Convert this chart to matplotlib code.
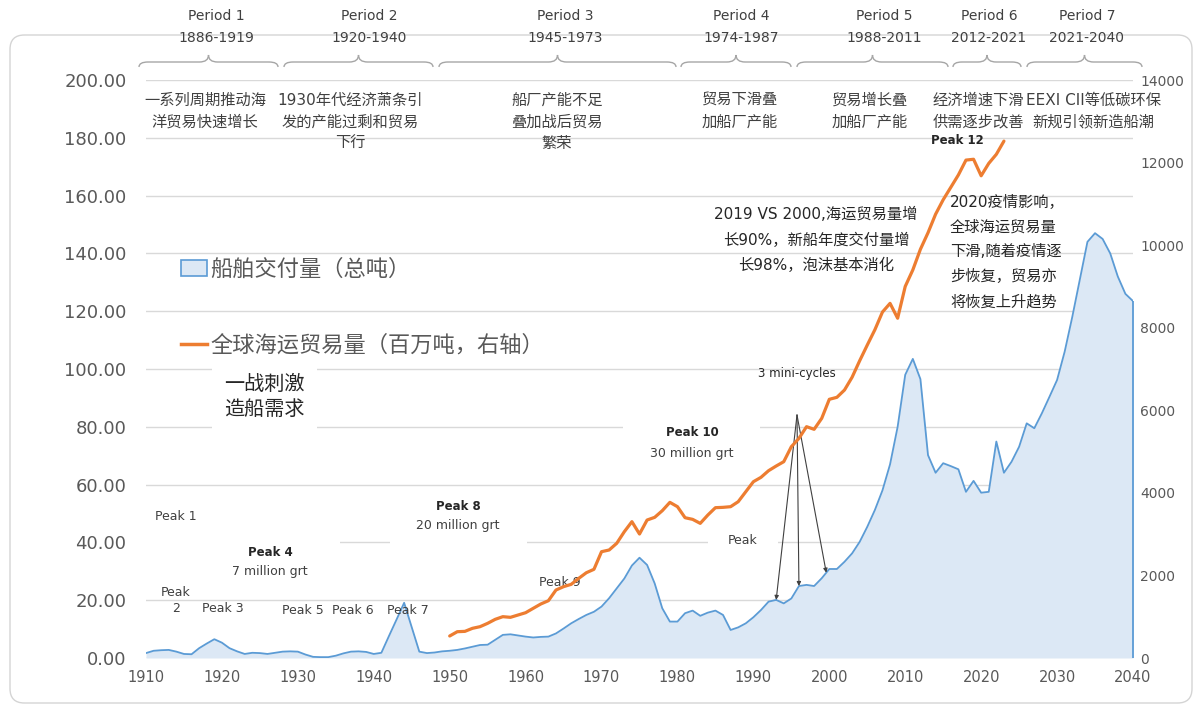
import matplotlib
import numpy as np

matplotlib.use("Agg")
import matplotlib.pyplot as plt  # noqa: E402
from matplotlib.lines import Line2D  # noqa: E402
from matplotlib.patches import FancyBboxPatch, Patch, PathPatch, Rectangle  # noqa: E402
from matplotlib.path import Path  # noqa: E402

plt.rcParams["font.family"] = ["DejaVu Sans", "Noto Sans CJK SC"]

# ---- data ----
deliv_years = np.arange(1910, 2041)
# ship deliveries, left axis
deliv = [
    1.7, 2.5, 2.7, 2.8, 2.2, 1.4, 1.3, 3.4, 5.0, 6.5,
    5.3, 3.4, 2.3, 1.4, 1.8, 1.7, 1.4, 1.8, 2.2, 2.3,
    2.2, 1.2, 0.4, 0.3, 0.3, 0.8, 1.6, 2.2, 2.3, 2.1,
    1.4, 1.8, 7.6, 13.3, 19.1, 10.6, 2.2, 1.7, 1.9, 2.3,
    2.5, 2.8, 3.3, 3.9, 4.5, 4.6, 6.3, 8.0, 8.2, 7.8,
    7.4, 7.1, 7.3, 7.4, 8.5, 10.2, 12.0, 13.5, 14.9, 16.0,
    17.8, 20.7, 24.1, 27.5, 32.0, 34.7, 32.2, 25.8, 17.2, 12.6,
    12.6, 15.5, 16.4, 14.6, 15.7, 16.4, 14.9, 9.7, 10.6, 12.0,
    14.1, 16.6, 19.5, 20.1, 18.9, 20.6, 24.9, 25.3, 24.9, 27.6,
    30.8, 30.8, 33.3, 36.2, 40.2, 45.4, 51.2, 58.0, 67.0, 80.0,
    98.0, 103.5, 96.5, 70.2, 64.1, 67.4, 66.4, 65.3, 57.5, 61.3,
    57.2, 57.5, 74.9, 64.1, 67.9, 73.1, 81.2, 79.5, 84.7, 90.4,
    96.2, 106.0, 118.0, 131.0, 144.0, 147.0, 145.0, 140.0, 132.0, 126.0,
    123.5,
]
trade_years = np.arange(1950, 2024)
# seaborne trade, million tonnes, right axis
trade = [
    533, 637, 645, 719, 759, 840, 937, 1001, 985, 1041,
    1097, 1203, 1308, 1388, 1647, 1728, 1784, 1930, 2066, 2148,
    2575, 2616, 2778, 3059, 3302, 3003, 3342, 3407, 3568, 3770,
    3665, 3398, 3358, 3261, 3463, 3641, 3649, 3665, 3786, 4028,
    4270, 4376, 4537, 4650, 4755, 5118, 5320, 5603, 5539, 5805,
    6266, 6314, 6491, 6800, 7200, 7580, 7950, 8380, 8590, 8230,
    9000, 9400, 9900, 10300, 10750, 11100, 11400, 11700, 12060, 12080,
    11680, 11980, 12200, 12520,
]

period_names = ["Period 1", "Period 2", "Period 3", "Period 4",
                "Period 5", "Period 6", "Period 7"]
period_spans = ["1886-1919", "1920-1940", "1945-1973", "1974-1987",
                "1988-2011", "2012-2021", "2021-2040"]
period_notes = [
    "一系列周期推动海\n洋贸易快速增长",
    "1930年代经济萧条引\n发的产能过剩和贸易\n下行",
    "船厂产能不足\n叠加战后贸易\n繁荣",
    "贸易下滑叠\n加船厂产能",
    "贸易增长叠\n加船厂产能",
    "经济增速下滑\n供需逐步改善",
    "EEXI CII等低碳环保\n新规引领新造船潮",
]
deliv_label = "船舶交付量（总吨）"
trade_label = "全球海运贸易量（百万吨，右轴）"

BLUE = "#5b9bd5"
FILL = "#dce8f5"
ORANGE = "#ed7d31"
GRID = "#d9d9d9"
GREY = "#595959"
DARK = "#404040"


# reference-pixel helpers for annotation placement (left-axis data coords)
def X(px):
    return 1910 + (px - 146) / 987 * 130


def Y(py):
    return (658 - py) / 578 * 200


def brace(ax, x0, x1, y0, y1, y2, r=1.2):
    xm = (x0 + x1) / 2
    verts = [(x0, y0), (x0, y1), (x0 + r, y1), (xm - r, y1), (xm, y1), (xm, y2),
             (xm, y1), (xm + r, y1), (x1 - r, y1), (x1, y1), (x1, y0)]
    codes = [Path.MOVETO, Path.CURVE3, Path.CURVE3, Path.LINETO, Path.CURVE3, Path.CURVE3,
             Path.CURVE3, Path.CURVE3, Path.LINETO, Path.CURVE3, Path.CURVE3]
    ax.add_patch(PathPatch(Path(verts, codes), fill=False, edgecolor="#a6a6a6",
                           lw=1.0, clip_on=False))


def white_box(ax, x0, y0, x1, y1):
    ax.add_patch(Rectangle((X(x0), Y(y1)), X(x1) - X(x0), Y(y0) - Y(y1),
                           facecolor="white", edgecolor="none", zorder=1))


fig = plt.figure(figsize=(12, 7.06), dpi=100)
fig.patches.append(FancyBboxPatch(
    (10 / 1200, 3 / 706), 1182 / 1200, 668 / 706,
    boxstyle="round,pad=0,rounding_size=0.012", mutation_aspect=1200 / 706,
    transform=fig.transFigure, facecolor="none", edgecolor="#d4d4d4", lw=1.0, zorder=-1))

ax = fig.add_axes([146 / 1200, 48 / 706, 987 / 1200, 578 / 706])
ax2 = ax.twinx()

# ---- series ----
ax.fill_between(deliv_years, deliv, color=FILL, lw=0, zorder=2)
ax.plot(deliv_years, deliv, color=BLUE, lw=1.3, zorder=2)
ax.vlines(deliv_years[-1], 0, deliv[-1], color=BLUE, lw=1.3, zorder=2, clip_on=False)
ax2.plot(trade_years, trade, color=ORANGE, lw=2.3, solid_capstyle="round")

ax.set_xlim(1910, 2040)
ax.set_ylim(0, 200)
ax2.set_ylim(0, 14000)
ax.set_xticks(np.arange(1910, 2041, 10))
ax.set_yticks(np.arange(0, 201, 20))
ax.yaxis.set_major_formatter(lambda v, _: f"{v:.2f}")
ax2.set_yticks(np.arange(0, 14001, 2000))
ax.grid(axis="y", color=GRID, lw=1.0)
ax.set_axisbelow(True)
for a in (ax, ax2):
    for s in a.spines.values():
        s.set_visible(False)
ax.tick_params(axis="y", length=0, labelsize=13, labelcolor=GREY, pad=14)
ax.tick_params(axis="x", length=0, labelsize=10.5, labelcolor=GREY, pad=9)
ax2.tick_params(axis="y", length=0, labelsize=10, labelcolor=GREY, pad=5)

# ---- header: periods, braces, notes ----
period_x = [216, 369, 565, 741, 884, 989, 1087]
brace_px = [(139, 278), (284, 433), (439, 676), (681, 791),
            (797, 948), (953, 1021), (1027, 1142)]
note_x = [205, 350, 557, 740, 870, 978, 1093]
for name, span, px in zip(period_names, period_spans, period_x):
    ax.text(X(px), Y(27), f"{name}\n{span}", ha="center", va="center",
            fontsize=10, color=DARK, linespacing=1.75)
for x0, x1 in brace_px:
    brace(ax, X(x0), X(x1), Y(67), Y(62), Y(55))
for note, px in zip(period_notes, note_x):
    ax.text(X(px), Y(93), note, ha="center", va="top", fontsize=11,
            color=DARK, linespacing=1.55)

# ---- white label boxes (break the gridlines like the original) ----
white_box(ax, 135, 505, 215, 548)
white_box(ax, 200, 540, 340, 586)
white_box(ax, 390, 495, 527, 550)
white_box(ax, 623, 420, 760, 462)
white_box(ax, 708, 528, 778, 552)
white_box(ax, 212, 366, 317, 432)

# ---- peak annotations ----
plain = [("Peak 1", 176, 517), ("Peak\n2", 176, 601), ("Peak 3", 223, 608),
         ("7 million grt", 270, 571), ("Peak 5", 303, 610), ("Peak 6", 353, 610),
         ("Peak 7", 408, 610), ("20 million grt", 458, 525), ("Peak 9", 560, 582),
         ("30 million grt", 692, 453), ("Peak", 743, 540)]
bold = [("Peak 4", 270, 552), ("Peak 8", 458, 506), ("Peak 10", 692, 433),
        ("Peak 12", 957, 141)]
for txt, px, py in plain:
    ax.text(X(px), Y(py), txt, ha="center", va="center", fontsize=9,
            color=DARK, zorder=3, linespacing=1.3)
for txt, px, py in bold:
    ax.text(X(px), Y(py), txt, ha="center", va="center", fontsize=8.5,
            fontweight="bold", color="#262626", zorder=3)

ax.text(X(264), Y(397), "一战刺激\n造船需求", ha="center", va="center",
        fontsize=14.5, color="#262626", linespacing=1.35, zorder=3)

ax.text(X(797), Y(374), "3 mini-cycles", ha="center", va="center",
        fontsize=8.5, color="#262626", zorder=3)
for yr in (1993, 1996, 1999.6):
    ax.annotate("", xy=(yr, np.interp(yr, deliv_years, deliv)), xytext=(X(797), Y(415)),
                arrowprops=dict(arrowstyle="-|>", color=DARK, lw=0.8,
                                mutation_scale=6, shrinkA=0, shrinkB=0), zorder=4)

ax.text(X(816), Y(240), "2019 VS 2000,海运贸易量增\n长90%，新船年度交付量增\n长98%，泡沫基本消化",
        ha="center", va="center", fontsize=11, color="#262626", linespacing=1.85, zorder=3)
ax.text(X(950), Y(252), "2020疫情影响，\n全球海运贸易量\n下滑,随着疫情逐\n步恢复，贸易亦\n将恢复上升趋势",
        ha="left", va="center", fontsize=11, color="#262626", linespacing=1.82, zorder=3)

# ---- legend ----
handles = [Patch(facecolor=FILL, edgecolor=BLUE, lw=1.2, label=deliv_label),
           Line2D([], [], color=ORANGE, lw=2.5, label=trade_label)]
ax2.legend(handles=handles, loc="upper left", bbox_to_anchor=(0.035, 0.691),
           frameon=False, fontsize=16, handlelength=1.2, handletextpad=0.15,
           labelspacing=2.45, borderaxespad=0, borderpad=0, labelcolor=GREY)

fig.savefig("out.png", dpi=100)
